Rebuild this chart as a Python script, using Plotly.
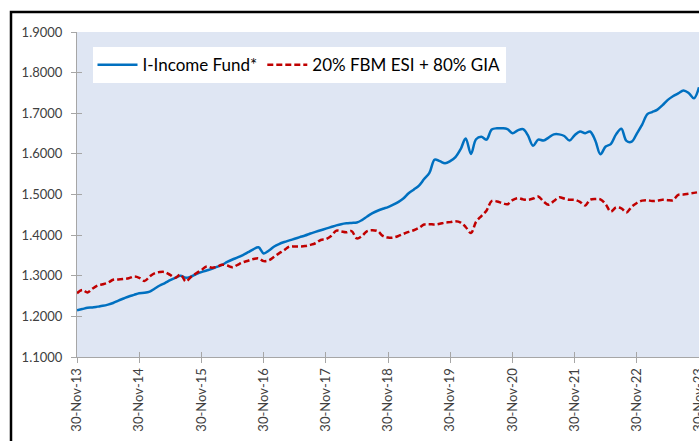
import pandas as pd
import plotly.graph_objects as go

dates = pd.date_range("2013-11-30", periods=121, freq="ME")

fund = [
    1.215, 1.218, 1.221, 1.222, 1.224, 1.226, 1.229, 1.233, 1.239, 1.244, 1.249, 1.253,
    1.257, 1.258, 1.261, 1.268, 1.276, 1.282, 1.289, 1.295, 1.300, 1.295, 1.298, 1.304,
    1.309, 1.313, 1.317, 1.322, 1.327, 1.334, 1.340, 1.345, 1.351, 1.358, 1.365, 1.370,
    1.355, 1.362, 1.372, 1.378, 1.383, 1.387, 1.391, 1.395, 1.399, 1.404, 1.408, 1.412,
    1.416, 1.420, 1.424, 1.427, 1.429, 1.430, 1.431, 1.437, 1.446, 1.454, 1.460, 1.465,
    1.469, 1.475, 1.482, 1.490, 1.503, 1.512, 1.522, 1.538, 1.553, 1.586, 1.582, 1.577,
    1.582, 1.592, 1.612, 1.638, 1.600, 1.636, 1.642, 1.635, 1.660, 1.663, 1.663, 1.661,
    1.651, 1.658, 1.661, 1.646, 1.620, 1.635, 1.633, 1.640, 1.648, 1.648, 1.644, 1.633,
    1.646, 1.655, 1.651, 1.655, 1.633, 1.599, 1.618, 1.624, 1.648, 1.662, 1.632, 1.630,
    1.650, 1.672, 1.698, 1.703, 1.709, 1.720, 1.733, 1.742, 1.749, 1.756, 1.750, 1.737,
    1.764,
]

bench = [
    1.257, 1.265, 1.259, 1.268, 1.276, 1.279, 1.283, 1.290, 1.291, 1.292, 1.294, 1.298,
    1.295, 1.287, 1.298, 1.306, 1.309, 1.309, 1.302, 1.295, 1.303, 1.286, 1.297, 1.306,
    1.314, 1.323, 1.320, 1.322, 1.327, 1.325, 1.321, 1.327, 1.333, 1.337, 1.341, 1.343,
    1.336, 1.338, 1.347, 1.355, 1.363, 1.372, 1.372, 1.372, 1.373, 1.376, 1.380, 1.388,
    1.390, 1.398, 1.411, 1.409, 1.407, 1.410, 1.392, 1.398, 1.410, 1.412, 1.410, 1.398,
    1.394, 1.394, 1.398, 1.403, 1.408, 1.412, 1.418, 1.426, 1.427, 1.426, 1.428, 1.431,
    1.432, 1.434, 1.431, 1.420, 1.405, 1.433, 1.447, 1.460, 1.484, 1.483, 1.479, 1.476,
    1.486, 1.491, 1.488, 1.487, 1.490, 1.495, 1.483, 1.475, 1.484, 1.493, 1.490, 1.487,
    1.487, 1.482, 1.473, 1.487, 1.489, 1.488, 1.476, 1.458, 1.468, 1.466, 1.456, 1.470,
    1.479, 1.485, 1.486, 1.484, 1.485, 1.487, 1.486, 1.486, 1.499, 1.500, 1.502, 1.504,
    1.506,
]

tick_dates = pd.to_datetime([f"{y}-11-30" for y in range(2013, 2024)])
tick_labels = [f"30-Nov-{y % 100:02d}" for y in range(2013, 2024)]
y_ticks = [1.1, 1.2, 1.3, 1.4, 1.5, 1.6, 1.7, 1.8, 1.9]

FONT = "Lato"
AXIS_COL = "#A6A6A6"

W, H = 730, 441
ML, MT, MB = 77, 32, 84
PW = W - ML
PH = H - MT - MB

fig = go.Figure()
fig.add_trace(go.Scatter(
    x=dates, y=fund, name="I-Income Fund*", mode="lines",
    line=dict(color="#0070C0", width=2.5, shape="spline"),
))
fig.add_trace(go.Scatter(
    x=dates, y=bench, name="20% FBM ESI + 80% GIA", mode="lines",
    line=dict(color="#C00000", width=2.5, shape="spline", dash="6px,3px"),
))
# invisible trace to carry the inner tick axes
fig.add_trace(go.Scatter(
    x=dates, y=fund, xaxis="x2", yaxis="y2", mode="lines",
    line=dict(width=0), opacity=0, showlegend=False, hoverinfo="skip",
))

xr = ["2013-11-30", "2024-05-30"]
yr = [1.1, 1.9]

fig.update_layout(
    width=W, height=H,
    margin=dict(l=ML, r=0, t=MT, b=MB),
    paper_bgcolor="white",
    plot_bgcolor="#DFE6F3",
    font=dict(family=FONT, size=13, color="#404040"),
    showlegend=True,
    legend=dict(
        orientation="h", x=15.5 / PW, y=0.953, xanchor="left", yanchor="top",
        bgcolor="white", borderwidth=0,
        font=dict(family=FONT, size=17, color="#000000"),
        itemwidth=40,
    ),
    xaxis=dict(
        type="date", range=xr, tickvals=tick_dates, ticktext=tick_labels,
        tickangle=-90, showgrid=False, zeroline=False,
        showline=True, linecolor=AXIS_COL, linewidth=1,
        ticks="outside", ticklen=5, tickcolor=AXIS_COL,
        tickfont=dict(family=FONT, size=13, color="#404040"),
    ),
    yaxis=dict(
        range=yr, tickvals=y_ticks, tickformat=".4f",
        showgrid=False, zeroline=False,
        showline=True, linecolor=AXIS_COL, linewidth=1,
        ticks="outside", ticklen=5, tickcolor=AXIS_COL,
        ticklabelstandoff=6,
        tickfont=dict(family=FONT, size=13, color="#404040"),
    ),
    xaxis2=dict(
        type="date", range=xr, overlaying="x", tickvals=tick_dates,
        showticklabels=False, showgrid=False, zeroline=False, showline=False,
        ticks="inside", ticklen=5, tickcolor=AXIS_COL, side="bottom",
    ),
    yaxis2=dict(
        range=yr, overlaying="y", tickvals=y_ticks,
        showticklabels=False, showgrid=False, zeroline=False, showline=False,
        ticks="inside", ticklen=5, tickcolor=AXIS_COL, side="left",
    ),
    shapes=[dict(
        type="rect", xref="paper", yref="paper",
        x0=(11 - ML) / PW, x1=1.2, y0=-0.5, y1=(MT + PH - 12) / PH,
        line=dict(color="black", width=2.5), fillcolor="rgba(0,0,0,0)",
        layer="above",
    )],
)

fig.write_html(
    "out.html",
    config={"displayModeBar": False},
    post_script="document.body.style.margin='0';document.body.style.overflow='hidden';",
)
